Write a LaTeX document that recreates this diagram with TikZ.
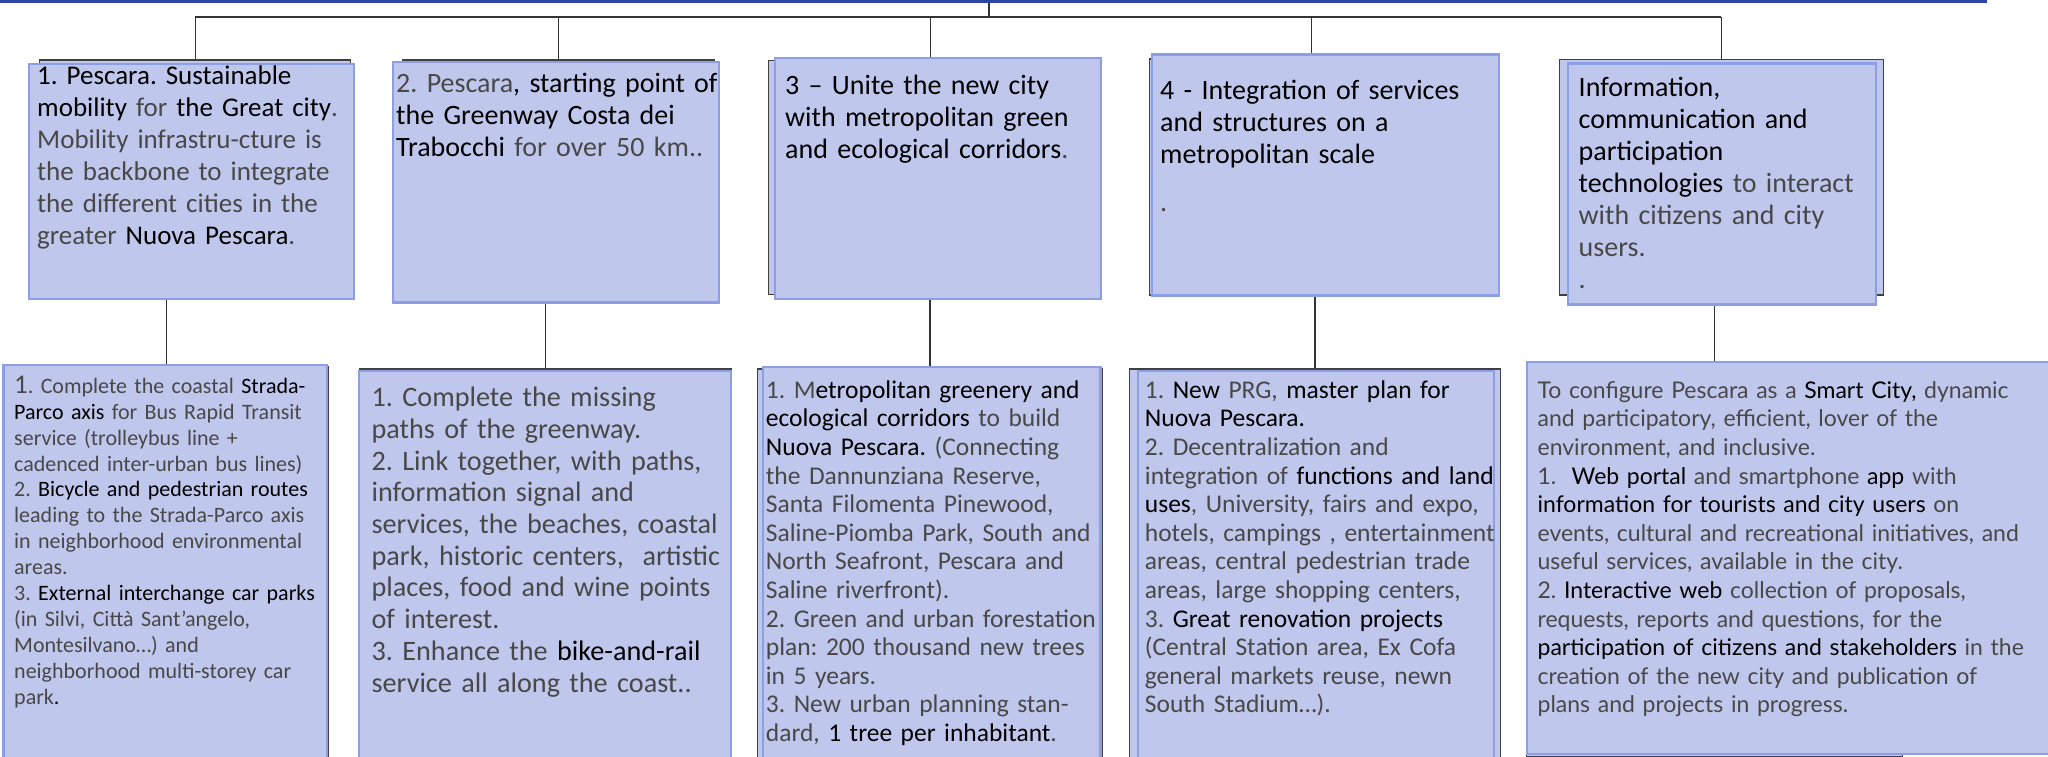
\documentclass[tikz,border=0pt]{standalone}
\usepackage{fontspec}
\setmainfont{Carlito}
\newfontfamily\latofont{Lato}
\usetikzlibrary{positioning,backgrounds}
\frenchspacing

\definecolor{cardfill}{RGB}{192,199,236}
\definecolor{cardline}{RGB}{140,158,228}
\definecolor{barblue}{RGB}{44,70,166}
\definecolor{lite}{RGB}{72,72,72}

% black words inside the grey running text
\newcommand{\hl}[1]{\textcolor{black}{#1}}

\begin{document}
\begin{tikzpicture}[x=1pt,y=-1pt,
    frame/.style={draw=black!75,line width=1.4pt,fill=cardfill,inner sep=0pt,anchor=north west},
    card/.style={draw=cardline,line width=2.4pt,fill=cardfill,inner sep=0pt,anchor=north west},
    head/.style={anchor=base west,inner sep=0pt,text width=600pt,align=left,text=lite,
      font=\fontsize{28}{32}\selectfont},
    body/.style={head,font=\fontsize{25.5}{28.6}\selectfont},
    link/.style={draw=black!80,line width=1.3pt},
  ]
    \useasboundingbox (0,0) rectangle (2048,757);
    \clip (0,0) rectangle (2048,757);

    % top bar
    \fill[barblue] (0,0) rectangle (1987,3);
    \coordinate (root) at (989,3);
    \coordinate (hub) at (989,17);

    % goals
    \node[frame,minimum width=311pt,minimum height=235pt] (aim1) at (39,59.3) {};
    \node[frame,minimum width=312pt,minimum height=235pt] (aim2) at (402,59.3) {};
    \node[frame,minimum width=323pt,minimum height=234pt] (aim3) at (768,60) {};
    \node[frame,minimum width=324pt,minimum height=236pt] (aim4) at (1148.7,58.3) {};
    \node[frame,minimum width=324pt,minimum height=235.6pt] (aim5) at (1558.7,58.7) {};

    \node[card,minimum width=325pt,minimum height=235pt] (aim1card) at (28,62.7) {};
    \node[card,minimum width=326.5pt,minimum height=240.6pt] (aim2card) at (391.5,60.7) {};
    \node[card,minimum width=326.3pt,minimum height=241pt] (aim3card) at (773.7,56.7) {};
    \node[card,minimum width=347pt,minimum height=241pt] (aim4card) at (1151,53.3) {};
    \node[card,minimum width=308pt,minimum height=241pt] (aim5card) at (1567,62.3) {};

    % actions
    \node[frame,minimum width=323.4pt,minimum height=420pt] (act1) at (4.3,366) {};
    \node[frame,minimum width=372pt,minimum height=420pt] (act2) at (358.6,368.3) {};
    \node[frame,minimum width=344.7pt,minimum height=420pt] (act3) at (757,368.3) {};
    \node[frame,minimum width=370.7pt,minimum height=420pt] (act4) at (1129,368.3) {};
    \node[frame,minimum width=376pt,minimum height=392pt] (act5) at (1526,364) {};

    \node[card,minimum width=323.2pt,minimum height=420pt] (act1card) at (2.4,364) {};
    \node[card,minimum width=372pt,minimum height=420pt] (act2card) at (357.7,370) {};
    \node[card,minimum width=337.5pt,minimum height=420pt] (act3card) at (761.8,366) {};
    \node[card,minimum width=356pt,minimum height=420pt] (act4card) at (1136.5,369.5) {};
    \node[card,minimum width=540pt,minimum height=392.3pt] (act5card) at (1525.5,360.7) {};

    \begin{scope}[on background layer]
      \draw[link] (root) -- (hub);
      \draw[link] (hub -| aim1.north) -- (hub -| aim5.north);
      \foreach \i in {1,...,5} {
        \draw[link] (hub -| aim\i.north) -- (aim\i.north);
        \draw[link] (act\i.north |- aim\i.south) -- (act\i.north);
      }
    \end{scope}

    % goal texts
    \node[head,font=\fontsize{27}{32}\selectfont] (aim1text) at (37,85) {\hl{1. Pescara. Sustainable}\\
      \hl{mobility} for \hl{the Great city}.\\
      Mobility infrastru-cture is\\
      the backbone to integrate\\
      the different cities in the\\
      greater \hl{Nuova Pescara}.};
    \node[head] (aim2text) at (396,93) {2. Pescara\hl{, starting point of}\\
      \hl{the Greenway Costa dei}\\
      \hl{Trabocchi} for over 50 km..};
    \node[head] (aim3text) at (785,95) {\hl{3 – Unite the new city}\\
      \hl{with metropolitan green}\\
      \hl{and ecological corridors}.};
    \node[head] (aim4text) at (1160,100) {\hl{4 - Integration of services}\\
      \hl{and structures on a}\\
      \hl{metropolitan scale}\\[16pt]
      .};
    \node[head] (aim5text) at (1578.5,96.7) {\hl{Information,}\\
      \hl{communication and}\\
      \hl{participation}\\
      \hl{technologies} to interact\\
      with citizens and city\\
      users.\\
      .};

    % action texts
    \node[body,font=\fontsize{22}{25.9}\selectfont] (act1text) at (14,393.3) {%
      {\fontsize{27}{27}\selectfont 1}. Complete the coastal \hl{Strada-}\\
      \hl{Parco axis} for Bus Rapid Transit\\
      service (trolleybus line +\\
      cadenced inter-urban bus lines)\\
      2. \hl{Bicycle and pedestrian routes}\\
      leading to the Strada-Parco axis\\
      in neighborhood environmental\\
      areas.\\
      3. \hl{External interchange car parks}\\
      (in Silvi, Città Sant’angelo,\\
      Montesilvano…) and\\
      neighborhood multi-storey car\\
      park\hl{.}};
    \node[body,font=\fontsize{28.2}{31.7}\selectfont] (act2text) at (371.4,406.7) {%
      1. Complete the missing\\
      paths of the greenway.\\
      2. Link together, with paths,\\
      information signal and\\
      services, the beaches, coastal\\
      park, historic centers,~ artistic\\
      places, food and wine points\\
      of interest.\\
      3. Enhance the \hl{bike-and-rail}\\
      service all along the coast..};
    \node[body] (act3text) at (765.7,398.3) {%
      1. M\hl{etropolitan greenery and}\\
      \hl{ecological corridors} to build\\
      \hl{Nuova Pescara.} (Connecting\\
      the Dannunziana Reserve,\\
      Santa Filomenta Pinewood,\\
      Saline-Piomba Park, South and\\
      North Seafront, Pescara and\\
      Saline riverfront).\\
      2. Green and urban forestation\\
      plan: 200 thousand new trees\\
      in 5 years.\\
      3. New urban planning stan-\\
      dard, \hl{1 tree per inhabitant}.};
    \node[body] (act4text) at (1144.7,398.3) {%
      1. \hl{New} PRG, \hl{master plan for}\\
      \hl{Nuova Pescara.}\\
      2. Decentralization and\\
      integration of \hl{functions and land}\\
      \hl{uses}, University, fairs and expo,\\
      hotels, campings , entertainment\\
      areas, central pedestrian trade\\
      areas, large shopping centers,\\
      3. \hl{Great renovation projects}\\
      (Central Station area, Ex Cofa\\
      general markets reuse, newn\\
      South Stadium…).};
    \node[body,font=\latofont\fontsize{23}{28.6}\selectfont] (act5text) at (1537.4,398.3) {%
      To configure Pescara as a \hl{Smart City,} dynamic\\
      and participatory, efficient, lover of the\\
      environment, and inclusive.\\
      1.~ \hl{Web portal} and smartphone \hl{app} with\\
      \hl{information for tourists and city users} on\\
      events, cultural and recreational initiatives, and\\
      useful services, available in the city.\\
      2. \hl{Interactive web} collection of proposals,\\
      requests, reports and questions, for the\\
      \hl{participation of citizens and stakeholders} in the\\
      creation of the new city and publication of\\
      plans and projects in progress.};
\end{tikzpicture}
\end{document}
